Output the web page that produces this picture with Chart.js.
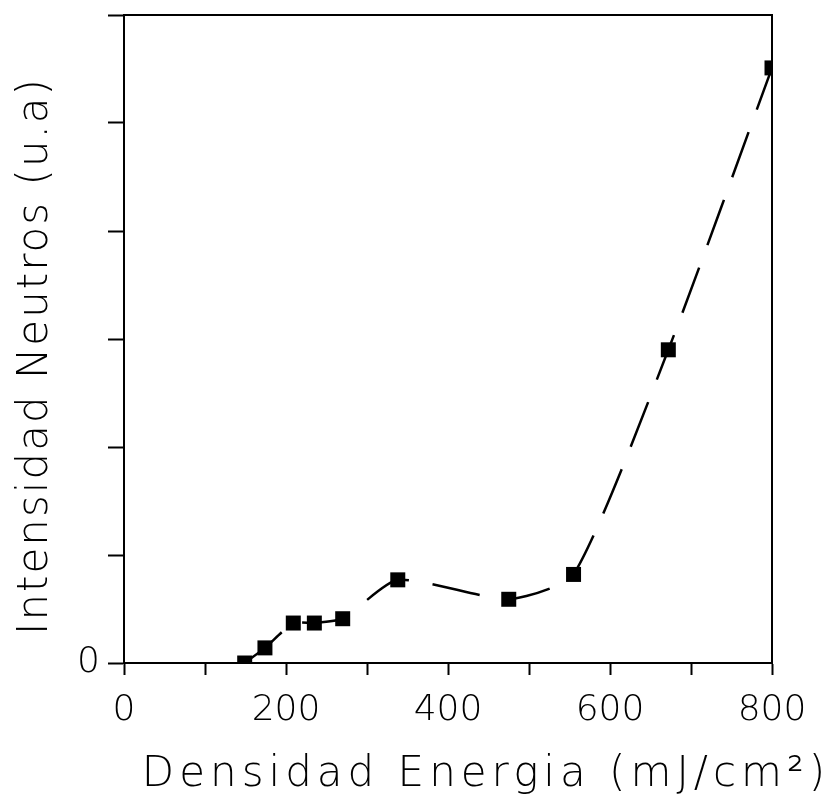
<!DOCTYPE html>
<html>
<head>
<meta charset="utf-8">
<script src="https://cdn.jsdelivr.net/npm/chart.js@4.4.1/dist/chart.umd.min.js"></script>
<style>
  body { margin: 0; background: #fff; }
</style>
</head>
<body>
<canvas id="grafico" width="836" height="803"></canvas>
<script>
// valores
const energia = [149, 174, 209, 235, 270, 338, 475, 555, 672, 800];
const intensidad = [0, 0.14, 0.37, 0.37, 0.41, 0.77, 0.59, 0.82, 2.90, 5.51];
const xTickLabels = [0, 200, 400, 600, 800];
const yTickLabels = [0];
const tituloX = 'Densidad Energia (mJ/cm²)';
const tituloY = 'Intensidad Neutros (u.a)';

const fontFam = "'DejaVu Sans', sans-serif";

// marco superior y derecho
const marco = {
  id: 'marco',
  beforeDatasetsDraw(chart) {
    const a = chart.chartArea;
    const ctx = chart.ctx;
    ctx.save();
    ctx.strokeStyle = '#000';
    ctx.lineWidth = 2;
    ctx.beginPath();
    ctx.moveTo(a.left, a.top);
    ctx.lineTo(a.right, a.top);
    ctx.lineTo(a.right, a.bottom);
    ctx.stroke();
    ctx.restore();
  }
};

// titulos de los ejes con algo de espaciado entre letras
const titulos = {
  id: 'titulos',
  afterDraw(chart) {
    const a = chart.chartArea;
    const ctx = chart.ctx;
    ctx.save();
    ctx.fillStyle = '#000';
    ctx.font = '200 42px ' + fontFam;
    ctx.textAlign = 'center';
    ctx.textBaseline = 'middle';
    ctx.letterSpacing = '5px';
    ctx.fillText(tituloX, (a.left + a.right) / 2 + 38, a.bottom + 112);
    ctx.letterSpacing = '2px';
    ctx.translate(36, (a.top + a.bottom) / 2 + 17);
    ctx.rotate(-Math.PI / 2);
    ctx.fillText(tituloY, 0, 0);
    ctx.restore();
  }
};

const ctx = document.getElementById('grafico');

new Chart(ctx, {
  type: 'line',
  data: {
    datasets: [{
      data: energia.map((x, i) => ({x: x, y: intensidad[i]})),
      borderColor: '#000',
      backgroundColor: '#000',
      borderWidth: 2.5,
      borderDash: [48, 24],
      tension: 0.2,
      pointStyle: 'rect',
      pointRadius: 10.6,
      pointBorderWidth: 0,
      fill: false
    }]
  },
  options: {
    responsive: false,
    animation: false,
    layout: { padding: { top: 15, right: 64, left: 0, bottom: 0 } },
    plugins: {
      legend: { display: false },
      tooltip: { enabled: false }
    },
    scales: {
      x: {
        type: 'linear',
        min: 0,
        max: 800,
        afterFit: s => { s.height = 140; s.paddingLeft = 0; s.paddingRight = 0; },
        ticks: {
          stepSize: 100,
          color: '#000',
          padding: 14,
          maxRotation: 0,
          font: { family: fontFam, size: 36, weight: 200 },
          callback: v => xTickLabels.includes(v) ? String(v) : ''
        },
        grid: {
          drawOnChartArea: false,
          color: '#000',
          tickLength: 12,
          tickWidth: 2
        },
        border: { color: '#000', width: 2 }
      },
      y: {
        min: 0,
        max: 6,
        afterFit: s => { s.width = 124; s.paddingTop = 0; s.paddingBottom = 0; },
        ticks: {
          stepSize: 1,
          color: '#000',
          padding: 8,
          font: { family: fontFam, size: 36, weight: 200 },
          callback: v => yTickLabels.includes(v) ? String(v) : ''
        },
        grid: {
          drawOnChartArea: false,
          color: '#000',
          tickLength: 16,
          tickWidth: 2
        },
        border: { color: '#000', width: 2 }
      }
    }
  },
  plugins: [marco, titulos]
});
</script>
</body>
</html>
